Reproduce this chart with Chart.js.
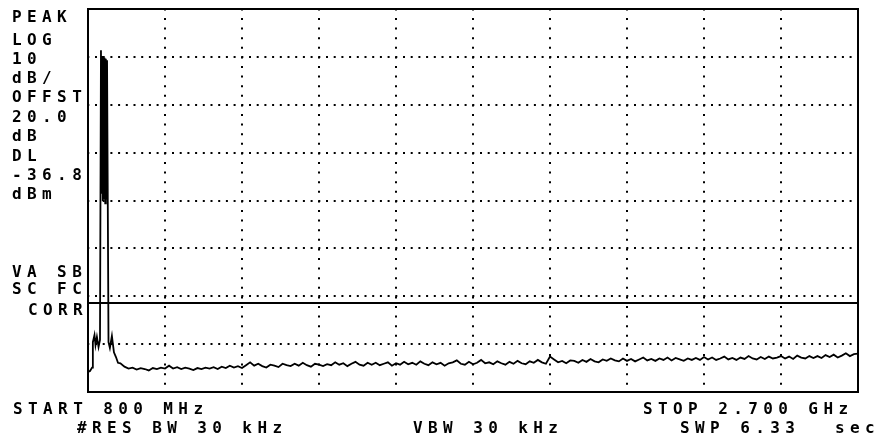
<!DOCTYPE html>
<html>
<head>
<meta charset="utf-8">
<script src="https://cdn.jsdelivr.net/npm/chart.js@4.4.1/dist/chart.umd.min.js"></script>
<style>
  body { margin: 0; background: #fff; }
  #wrap { position: relative; width: 875px; height: 435px; overflow: hidden; }
  .t {
    position: absolute;
    font-family: "DejaVu Sans Mono", monospace;
    font-weight: bold;
    font-size: 16px;
    line-height: 16px;
    letter-spacing: 5.4px;
    color: #000;
    white-space: pre;
  }
</style>
</head>
<body>
<div id="wrap">
  <canvas id="spectrum" width="875" height="435"></canvas>
</div>
<script>
// sweep settings
const START_MHZ = 800;
const STOP_MHZ = 2700;
const REF_DBM = 24.6;
const DB_PER_DIV = 10;
const V_DIVS = 8;
const H_DIVS = 10;
const DISPLAY_LINE_DBM = -36.8;

// signal around the carrier
const signalFreqs = [800, 805, 810, 812, 816, 818.5, 822, 826, 829.6,
  832, 833.5, 835, 836.5, 838, 839.5, 841, 842.5, 844, 845.5, 847,
  850.6, 854, 859, 864, 869, 874];
const signalLevels = [-51.2, -51.0, -50.3, -45.0, -43.5, -45.6, -43.9, -46.0, -44.5,
  16.0, -14.0, 14.8, -15.5, 14.6, -15.0, 14.4, -16.0, 14.2, -15.2, 13.9,
  -45.0, -46.2, -43.7, -47.1, -48.1, -49.3];

// noise floor, 880 .. 2700 MHz every 10 MHz
const noiseStartMhz = 880;
const noiseStepMhz = 10;
const noiseLevels = [
  -49.4, -50.1, -50.5, -50.3, -50.7, -50.4, -50.6, -50.9, -50.4, -50.6, -50.3, -50.5,
  -49.9, -50.5, -50.2, -50.6, -50.3, -50.5, -50.8, -50.4, -50.6, -50.3,
  -50.5, -50.2, -50.6, -50.1, -50.4, -49.9, -50.3, -50.0, -50.4, -49.8,
  -49.2, -49.9, -49.5, -50.0, -50.3, -49.7, -49.9, -50.2, -49.5, -49.8,
  -50.0, -49.5, -49.9, -49.3, -49.8, -50.1, -49.5, -49.7, -50.0, -49.6,
  -49.8, -49.2, -49.7, -49.4, -50.0, -49.5, -49.1, -49.7, -49.9, -49.3,
  -49.7, -49.3, -49.8, -49.5, -49.2, -49.9, -49.4, -49.7, -49.1, -49.6,
  -49.3, -49.7, -49.0, -49.5, -49.8, -49.2, -49.6, -49.3, -49.9, -49.4,
  -49.2, -48.8, -49.5, -49.7, -49.1, -49.6, -49.3, -48.7, -49.4, -49.2,
  -49.6, -49.0, -49.4, -49.7, -49.1, -49.5, -48.9, -49.4, -49.6, -49.0,
  -49.3, -48.7, -49.2, -49.5, -48.0, -48.6, -49.2, -48.9, -49.4, -48.8,
  -48.9, -49.3, -48.7, -49.1, -48.5, -49.0, -49.2, -48.6, -48.9, -48.4,
  -48.8, -49.0, -48.4, -48.9, -48.5, -49.0, -48.6, -48.2, -48.8, -48.5,
  -48.9, -48.4, -48.7, -48.2, -48.8, -48.3, -48.6, -48.9, -48.4, -48.7,
  -48.3, -48.7, -48.1, -48.6, -48.2, -48.7, -48.4, -48.0, -48.6, -48.3,
  -48.7, -48.2, -48.5, -47.9, -48.4, -48.6, -48.1, -48.5, -48.0, -48.4,
  -48.2, -47.9, -48.4, -48.0, -48.5, -47.8, -48.2, -48.4, -47.9, -48.3,
  -47.9, -48.3, -47.7, -48.1, -47.6, -48.2, -47.8, -47.3, -47.9, -47.5,
  -47.4
];

// annotation text: [text, left, centre y]
const labels = [
  ['PEAK', 12, 16], ['LOG', 12, 39], ['10', 12, 58], ['dB/', 12, 77],
  ['OFFST', 12, 96], ['20.0', 12, 116], ['dB', 12, 135], ['DL', 12, 155],
  ['-36.8', 12, 174], ['dBm', 12, 193],
  ['VA SB', 12, 271], ['SC FC', 12, 288], ['CORR', 28, 309],
  ['START 800 MHz', 13, 408],
  ['#RES BW 30 kHz', 77, 427],
  ['VBW 30 kHz', 413, 427],
  ['STOP 2.700 GHz', 643, 408],
  ['SWP 6.33', 680, 427], ['sec', 835, 427]
];

const wrap = document.getElementById('wrap');
labels.forEach(([text, x, y]) => {
  const d = document.createElement('div');
  d.className = 't';
  d.textContent = text;
  d.style.left = x + 'px';
  d.style.top = (y - 7) + 'px';
  wrap.appendChild(d);
});

const trace = signalFreqs.map((f, i) => ({ x: f, y: signalLevels[i] }));
noiseLevels.forEach((v, i) => {
  trace.push({ x: noiseStartMhz + i * noiseStepMhz, y: v });
});

const frame = {
  id: 'frame',
  afterDraw(chart) {
    const { ctx, chartArea: a } = chart;
    ctx.save();
    ctx.strokeStyle = '#000';
    ctx.lineWidth = 2;
    ctx.strokeRect(a.left, a.top, a.right - a.left, a.bottom - a.top);
    ctx.restore();
  }
};

new Chart(document.getElementById('spectrum'), {
  type: 'line',
  data: {
    datasets: [
      {
        data: trace,
        borderColor: '#000',
        borderWidth: 1.8,
        pointRadius: 0,
        tension: 0
      },
      {
        data: [{ x: START_MHZ, y: DISPLAY_LINE_DBM }, { x: STOP_MHZ, y: DISPLAY_LINE_DBM }],
        borderColor: '#000',
        borderWidth: 2,
        pointRadius: 0
      }
    ]
  },
  options: {
    responsive: false,
    animation: false,
    layout: { padding: { left: 88, right: 17, top: 9, bottom: 43 } },
    plugins: { legend: { display: false }, tooltip: { enabled: false } },
    scales: {
      x: {
        type: 'linear',
        min: START_MHZ,
        max: STOP_MHZ,
        afterBuildTicks: s => {
          s.ticks = [];
          for (let i = 0; i <= H_DIVS; i++) s.ticks.push({ value: START_MHZ + i * (STOP_MHZ - START_MHZ) / H_DIVS });
        },
        ticks: { display: false },
        grid: { color: '#000', lineWidth: 2, drawTicks: false },
        border: { display: false, dash: [2, 7.6], dashOffset: -9 }
      },
      y: {
        min: REF_DBM - V_DIVS * DB_PER_DIV,
        max: REF_DBM,
        afterBuildTicks: s => {
          s.ticks = [];
          for (let i = 0; i <= V_DIVS; i++) s.ticks.push({ value: REF_DBM - i * DB_PER_DIV });
        },
        ticks: { display: false },
        grid: { color: '#000', lineWidth: 2, drawTicks: false },
        border: { display: false, dash: [2, 5.7], dashOffset: -7 }
      }
    }
  },
  plugins: [frame]
});
</script>
</body>
</html>
